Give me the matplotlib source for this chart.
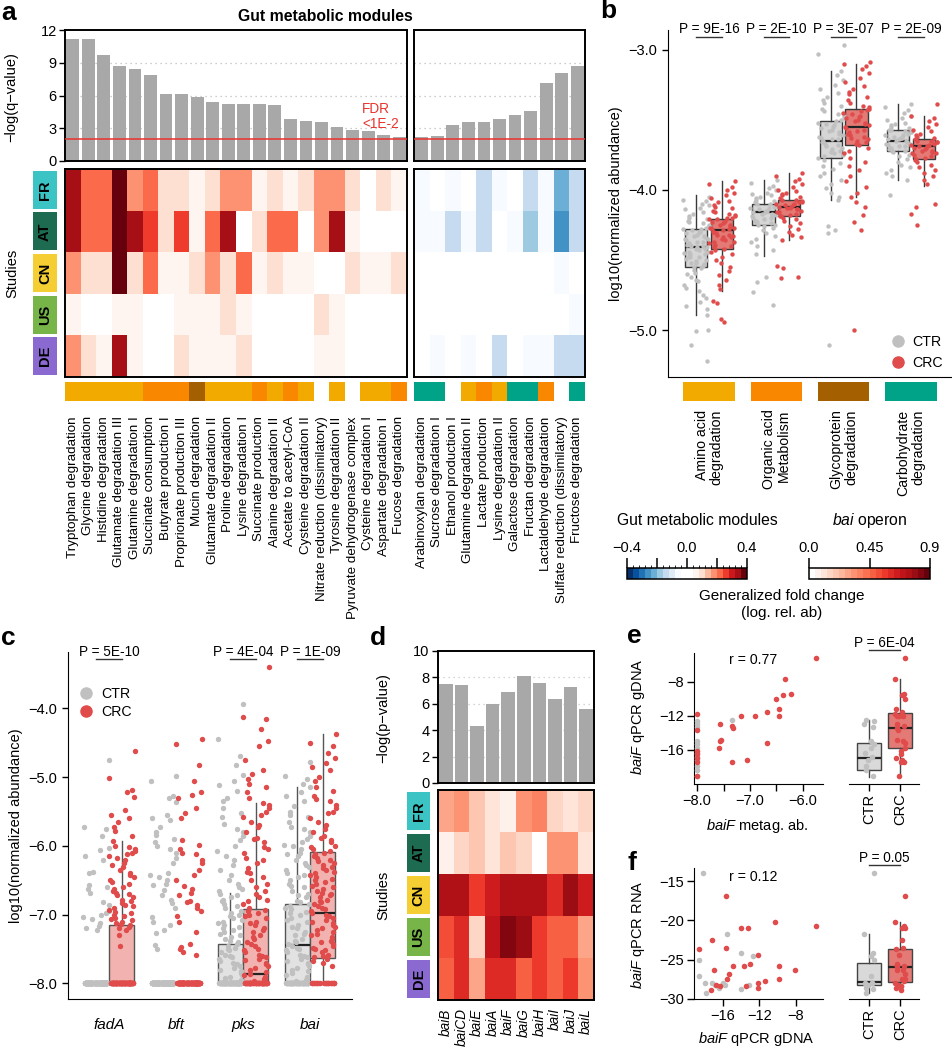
import numpy as np
import matplotlib
matplotlib.use("Agg")
import matplotlib.pyplot as plt
from matplotlib.colors import ListedColormap, BoundaryNorm, LinearSegmentedColormap, Normalize
from matplotlib.patches import Rectangle
from matplotlib.lines import Line2D
from matplotlib.cm import ScalarMappable

plt.rcParams["font.family"] = ["Liberation Sans", "DejaVu Sans"]
plt.rcParams["font.size"] = 9.6
plt.rcParams["mathtext.fontset"] = "custom"
plt.rcParams["mathtext.rm"] = "Liberation Sans"
plt.rcParams["mathtext.it"] = "Liberation Sans:italic"
plt.rcParams["xtick.major.width"] = 1.0
plt.rcParams["ytick.major.width"] = 1.0
plt.rcParams["xtick.major.size"] = 4
plt.rcParams["ytick.major.size"] = 4

# ============================ DATA ============================
studies = ["FR", "AT", "CN", "US", "DE"]
study_colors = ["#3CC3C3", "#1D6B50", "#F5CE33", "#77B548", "#8A6AD0"]

modules_up = ["Tryptophan degradation", "Glycine degradation", "Histidine degradation",
              "Glutamate degradation III", "Glutamine degradation I", "Succinate consumption",
              "Butyrate production I", "Proprionate production III", "Mucin degradation",
              "Glutamate degradation II", "Proline degradation", "Lysine degradation I",
              "Succinate production", "Alanine degradation II", "Acetate to acetyl-CoA",
              "Cysteine degradation II", "Nitrate reduction (dissimilatory)", "Tyrosine degradation II",
              "Pyruvate dehydrogenase complex", "Cysteine degradation I", "Aspartate degradation I",
              "Fucose degradation"]
modules_down = ["Arabinoxylan degradation", "Sucrose degradation I", "Ethanol production I",
                "Glutamine degradation II", "Lactate production", "Lysine degradation II",
                "Galactose degradation", "Fructan degradation", "Lactaldehyde degradation",
                "Sulfate reduction (dissimilatory)", "Fructose degradation"]
qval_up = [11.18, 11.15, 9.68, 8.67, 8.40, 7.88, 6.14, 6.10, 5.83, 5.40, 5.25,
           5.22, 5.20, 5.13, 3.88, 3.66, 3.54, 3.15, 2.80, 2.72, 2.38, 2.23]
qval_down = [2.17, 2.29, 3.27, 3.57, 3.60, 3.87, 4.18, 4.58, 7.14, 8.03, 8.67]
fdr_threshold = 2.0

cat_up = ["AA", "AA", "AA", "AA", "AA", "OA", "OA", "OA", "GP", "AA", "AA",
          "AA", "OA", "AA", "OA", "AA", "", "AA", "", "AA", "AA", "OA"]
cat_down = ["CH", "CH", "", "AA", "OA", "AA", "CH", "CH", "OA", "", "CH"]
category_keys = ["AA", "OA", "GP", "CH"]
category_names = ["Amino acid\ndegradation", "Organic acid\nMetabolism",
                  "Glycoprotein\ndegradation", "Carbohydrate\ndegradation"]
category_colors = ["#F2AA00", "#F98800", "#A45F00", "#00A388"]

# generalized fold change per study (rows FR, AT, CN, US, DE)
fc_up = [
    [0.34, 0.22, 0.22, 0.39, 0.18, 0.22, 0.10, 0.10, 0.06, 0.10, 0.18, 0.18, 0.06, 0.10, 0.06, 0.10, 0.18, 0.18, 0.10, 0.00, 0.10, 0.06],
    [0.34, 0.22, 0.22, 0.39, 0.34, 0.26, 0.10, 0.26, 0.06, 0.22, 0.34, 0.00, 0.10, 0.22, 0.22, 0.00, 0.18, 0.34, 0.06, 0.00, 0.00, 0.00],
    [0.18, 0.10, 0.10, 0.39, 0.10, 0.22, 0.06, 0.06, 0.10, 0.18, 0.10, 0.22, 0.06, 0.10, 0.06, 0.06, 0.00, 0.00, 0.10, 0.06, 0.06, 0.10],
    [0.06, 0.00, 0.00, 0.06, 0.06, 0.00, 0.00, 0.06, 0.06, 0.06, 0.10, 0.06, 0.00, 0.00, 0.00, 0.00, 0.10, 0.06, 0.00, 0.00, 0.00, 0.00],
    [0.18, 0.10, 0.06, 0.34, 0.06, 0.00, 0.00, 0.10, 0.06, 0.06, 0.06, 0.10, 0.00, 0.00, 0.00, 0.00, 0.06, 0.06, 0.00, 0.00, 0.00, 0.00],
]
fc_down = [
    [-0.06, 0.00, -0.06, 0.00, -0.14, -0.06, 0.00, -0.14, -0.06, -0.22, -0.14],
    [-0.06, -0.06, -0.14, -0.06, -0.14, 0.00, -0.06, -0.18, -0.06, -0.26, -0.14],
    [0.00, 0.00, 0.00, 0.00, 0.00, 0.00, 0.00, 0.00, 0.00, -0.06, 0.00],
    [0.00, 0.00, 0.00, 0.00, 0.00, 0.00, 0.00, 0.00, 0.00, 0.00, -0.06],
    [0.00, -0.06, 0.00, -0.06, 0.00, -0.14, 0.00, -0.06, -0.06, -0.14, -0.14],
]

# panel b: box stats [whislo, q1, med, q3, whishi] and points
b_ctr_box = [[-4.89, -4.55, -4.41, -4.28, -4.04], [-4.47, -4.25, -4.16, -4.10, -3.93],
             [-4.07, -3.77, -3.65, -3.51, -3.15], [-3.93, -3.72, -3.65, -3.57, -3.39]]
b_crc_box = [[-4.72, -4.42, -4.29, -4.21, -3.94], [-4.36, -4.19, -4.12, -4.07, -3.88],
             [-4.05, -3.68, -3.55, -3.42, -3.10], [-3.97, -3.78, -3.69, -3.64, -3.47]]
b_ctr_pts = [
    [-4.05, -4.07, -4.08, -4.1, -4.11, -4.13, -4.14, -4.16, -4.17, -4.19, -4.2, -4.21, -4.22, -4.23, -4.24, -4.25,
     -4.26, -4.27, -4.28, -4.28, -4.29, -4.3, -4.3, -4.31, -4.32, -4.33, -4.33, -4.34, -4.35, -4.35, -4.36, -4.37,
     -4.37, -4.38, -4.39, -4.39, -4.4, -4.4, -4.41, -4.41, -4.42, -4.42, -4.43, -4.44, -4.44, -4.45, -4.46, -4.46,
     -4.47, -4.48, -4.48, -4.49, -4.5, -4.51, -4.52, -4.52, -4.53, -4.54, -4.55, -4.56, -4.57, -4.59, -4.6, -4.62,
     -4.64, -4.65, -4.68, -4.7, -4.72, -4.75, -4.77, -4.8, -4.83, -4.85, -4.89, -5.0, -5.01, -5.11, -5.22],
    [-3.93, -3.95, -3.97, -3.99, -4.0, -4.02, -4.03, -4.04, -4.05, -4.06, -4.07, -4.08, -4.09, -4.1, -4.1, -4.11,
     -4.12, -4.12, -4.13, -4.13, -4.14, -4.15, -4.15, -4.16, -4.16, -4.17, -4.17, -4.18, -4.18, -4.19, -4.2, -4.2,
     -4.21, -4.22, -4.22, -4.23, -4.24, -4.25, -4.25, -4.26, -4.27, -4.29, -4.31, -4.33, -4.35, -4.37, -4.4, -4.43,
     -4.46, -4.62, -4.66, -4.73, -4.82],
    [-2.97, -3.03, -3.15, -3.18, -3.22, -3.25, -3.28, -3.31, -3.34, -3.36, -3.38, -3.4, -3.42, -3.44, -3.46, -3.47,
     -3.49, -3.5, -3.51, -3.52, -3.53, -3.54, -3.55, -3.56, -3.57, -3.58, -3.59, -3.6, -3.61, -3.62, -3.63, -3.64,
     -3.64, -3.65, -3.66, -3.67, -3.68, -3.69, -3.7, -3.71, -3.72, -3.73, -3.74, -3.75, -3.76, -3.77, -3.79, -3.81,
     -3.83, -3.85, -3.88, -3.9, -3.93, -3.96, -3.99, -4.02, -4.05, -4.07, -4.26, -4.29, -4.31, -5.11],
    [-3.39, -3.41, -3.43, -3.45, -3.47, -3.49, -3.5, -3.52, -3.53, -3.54, -3.55, -3.56, -3.57, -3.57, -3.58, -3.59,
     -3.59, -3.6, -3.61, -3.61, -3.62, -3.63, -3.63, -3.64, -3.64, -3.65, -3.65, -3.66, -3.67, -3.67, -3.68, -3.69,
     -3.69, -3.7, -3.71, -3.72, -3.72, -3.73, -3.75, -3.76, -3.78, -3.8, -3.82, -3.84, -3.86, -3.88, -3.9, -3.93,
     -4.04],
]
b_crc_pts = [
    [-3.94, -3.96, -3.98, -4.0, -4.02, -4.04, -4.06, -4.08, -4.09, -4.11, -4.12, -4.13, -4.15, -4.16, -4.17, -4.18,
     -4.19, -4.2, -4.2, -4.21, -4.21, -4.22, -4.23, -4.23, -4.24, -4.25, -4.25, -4.26, -4.27, -4.27, -4.28, -4.28,
     -4.29, -4.3, -4.3, -4.31, -4.32, -4.32, -4.33, -4.34, -4.34, -4.35, -4.36, -4.37, -4.37, -4.38, -4.39, -4.4,
     -4.41, -4.42, -4.43, -4.44, -4.46, -4.48, -4.5, -4.52, -4.55, -4.58, -4.61, -4.64, -4.68, -4.71, -4.79, -4.81,
     -4.92, -4.94],
    [-3.88, -3.9, -3.92, -3.94, -3.96, -3.98, -4.0, -4.01, -4.02, -4.03, -4.04, -4.05, -4.06, -4.07, -4.07, -4.08,
     -4.09, -4.09, -4.1, -4.1, -4.11, -4.11, -4.12, -4.12, -4.13, -4.13, -4.14, -4.14, -4.15, -4.16, -4.16, -4.17,
     -4.18, -4.19, -4.19, -4.2, -4.21, -4.22, -4.24, -4.26, -4.28, -4.3, -4.32, -4.34, -4.36, -4.54, -4.56, -4.62,
     -4.63],
    [-3.09, -3.1, -3.12, -3.14, -3.17, -3.2, -3.23, -3.26, -3.28, -3.3, -3.32, -3.34, -3.36, -3.38, -3.4, -3.41,
     -3.42, -3.43, -3.44, -3.45, -3.46, -3.47, -3.48, -3.49, -3.5, -3.51, -3.52, -3.53, -3.54, -3.55, -3.56, -3.57,
     -3.58, -3.59, -3.6, -3.61, -3.62, -3.63, -3.64, -3.65, -3.66, -3.67, -3.68, -3.7, -3.72, -3.74, -3.77, -3.8,
     -3.83, -3.86, -3.9, -3.94, -3.98, -4.02, -4.05, -4.09, -4.12, -4.18, -4.23, -4.29, -5.0],
    [-3.39, -3.47, -3.49, -3.51, -3.53, -3.55, -3.57, -3.58, -3.6, -3.61, -3.62, -3.63, -3.64, -3.65, -3.65, -3.66,
     -3.66, -3.67, -3.68, -3.68, -3.69, -3.69, -3.7, -3.7, -3.71, -3.72, -3.72, -3.73, -3.74, -3.74, -3.75, -3.76,
     -3.77, -3.78, -3.79, -3.8, -3.82, -3.84, -3.86, -3.88, -3.9, -3.93, -3.96, -4.1, -4.12, -4.17, -4.25],
]
b_pvals = ["P = 9E-16", "P = 2E-10", "P = 3E-07", "P = 2E-09"]

# panel c
c_genes = ["fadA", "bft", "pks", "bai"]
c_ctr_box = [[-8, -8, -8, -8, -8], [-8, -8, -8, -8, -8], [-8, -8, -8, -7.43, -6.69], [-8, -8, -7.44, -6.85, -5.14]]
c_crc_box = [[-8, -8, -8, -7.15, -5.93], [-8, -8, -8, -8, -8], [-8, -8, -7.86, -6.92, -5.37], [-8, -7.63, -6.98, -6.09, -4.37]]
c_ctr_floor = [180, 200, 110, 70]
c_crc_floor = [110, 170, 60, 25]
c_ctr_pts = [
    [-4.75, -5.73, -5.75, -5.86, -6.03, -6.06, -6.15, -6.2, -6.38, -6.4, -6.57, -6.6, -6.63, -6.69, -6.82, -6.86,
     -6.95, -6.98, -7.0, -7.03, -7.07, -7.12, -7.16, -7.2, -7.22],
    [-4.98, -5.05, -5.28, -5.31, -5.36, -5.55, -5.6, -5.62, -5.72, -5.8, -5.84, -5.9, -5.95, -6.0, -6.05, -6.1,
     -6.18, -6.25, -6.4, -6.42, -6.45, -6.5, -6.55, -6.57, -6.64, -6.71, -6.78, -6.83, -6.9, -7.03, -7.1, -7.15,
     -7.22, -7.27, -7.44, -7.5],
    [-3.93, -4.45, -4.69, -4.83, -4.97, -5.05, -5.12, -5.2, -5.3, -5.35, -5.45, -5.52, -5.58, -5.68, -5.75, -5.8,
     -5.85, -5.92, -6.0, -6.08, -6.15, -6.2, -6.28, -6.35, -6.42, -6.5, -6.55, -6.6, -6.62, -6.66, -6.7, -6.72,
     -6.75, -6.78, -6.8, -6.84, -6.88, -6.9, -6.95, -6.98, -7.0, -7.02, -7.05, -7.08, -7.1, -7.12, -7.15, -7.18,
     -7.2, -7.22, -7.25, -7.28, -7.3, -7.32, -7.35, -7.38, -7.4, -7.42, -7.45, -7.48, -7.5, -7.52, -7.55, -7.58,
     -7.6, -7.62, -7.65, -7.68, -7.7, -7.72, -7.75, -7.78, -7.8, -7.82, -7.85, -7.88, -7.9, -7.92, -7.95, -7.97],
    [-4.78, -4.98, -5.03, -5.1, -5.15, -5.22, -5.28, -5.35, -5.42, -5.5, -5.55, -5.58, -5.65, -5.72, -5.75, -5.8,
     -5.85, -5.9, -5.95, -5.98, -6.0, -6.05, -6.1, -6.12, -6.15, -6.2, -6.25, -6.28, -6.3, -6.35, -6.4, -6.42,
     -6.45, -6.5, -6.55, -6.58, -6.6, -6.65, -6.7, -6.72, -6.75, -6.8, -6.82, -6.84, -6.88, -6.9, -6.92, -6.96,
     -6.98, -7.0, -7.05, -7.08, -7.1, -7.15, -7.18, -7.2, -7.25, -7.28, -7.3, -7.35, -7.38, -7.4, -7.42, -7.45,
     -7.48, -7.5, -7.52, -7.55, -7.58, -7.6, -7.62, -7.65, -7.68, -7.7, -7.72, -7.75, -7.78, -7.8, -7.82, -7.85,
     -7.88, -7.9, -7.92, -7.95, -7.97],
]
c_crc_pts = [
    [-4.62, -5.01, -5.19, -5.22, -5.29, -5.48, -5.55, -5.6, -5.65, -5.72, -5.78, -5.85, -5.93, -6.0, -6.02, -6.05,
     -6.08, -6.1, -6.12, -6.15, -6.18, -6.2, -6.25, -6.28, -6.3, -6.35, -6.4, -6.42, -6.45, -6.5, -6.52, -6.55,
     -6.6, -6.62, -6.65, -6.68, -6.7, -6.72, -6.75, -6.78, -6.8, -6.83, -6.86, -6.88, -6.9, -6.93, -6.96, -6.98,
     -7.0, -7.02, -7.05, -7.06, -7.08, -7.1, -7.12, -7.14, -7.15, -7.18, -7.2, -7.22, -7.3, -7.45],
    [-4.45, -4.52, -4.83, -5.05, -5.22, -5.26, -5.3, -5.45, -5.52, -5.6, -5.92, -5.98, -6.05, -6.1, -6.12, -6.2,
     -6.25, -6.35, -6.42, -6.5, -6.58, -6.62, -6.68, -6.72, -6.8, -6.82, -6.86, -6.9, -6.95, -7.02, -7.1, -7.25,
     -7.42, -7.47, -7.5, -7.55, -7.58],
    [-3.4, -4.12, -4.15, -4.3, -4.48, -4.55, -4.75, -4.9, -4.95, -5.02, -5.1, -5.15, -5.22, -5.3, -5.38, -5.4,
     -5.45, -5.5, -5.55, -5.58, -5.65, -5.7, -5.72, -5.8, -5.88, -5.9, -5.95, -6.02, -6.05, -6.1, -6.18, -6.2,
     -6.25, -6.32, -6.38, -6.4, -6.45, -6.5, -6.55, -6.6, -6.65, -6.7, -6.75, -6.78, -6.8, -6.85, -6.9, -6.93,
     -6.95, -6.97, -7.0, -7.02, -7.05, -7.1, -7.12, -7.15, -7.2, -7.22, -7.25, -7.3, -7.32, -7.35, -7.4, -7.42,
     -7.45, -7.5, -7.52, -7.55, -7.58, -7.6, -7.62, -7.64, -7.66, -7.7, -7.72, -7.75, -7.78, -7.8, -7.84, -7.86,
     -7.88, -7.9, -7.92, -7.94, -7.96, -7.98],
    [-4.37, -4.5, -4.55, -4.65, -4.72, -4.8, -4.85, -4.9, -5.0, -5.05, -5.15, -5.2, -5.28, -5.32, -5.35, -5.4,
     -5.45, -5.5, -5.52, -5.6, -5.65, -5.7, -5.75, -5.8, -5.85, -5.88, -5.92, -5.95, -6.0, -6.02, -6.05, -6.08,
     -6.1, -6.12, -6.15, -6.18, -6.2, -6.22, -6.25, -6.28, -6.3, -6.32, -6.35, -6.38, -6.4, -6.42, -6.45, -6.48,
     -6.5, -6.52, -6.55, -6.58, -6.6, -6.62, -6.65, -6.68, -6.7, -6.72, -6.75, -6.78, -6.8, -6.82, -6.85, -6.88,
     -6.9, -6.92, -6.95, -6.98, -7.0, -7.02, -7.05, -7.08, -7.1, -7.12, -7.15, -7.18, -7.2, -7.22, -7.25, -7.28,
     -7.3, -7.32, -7.35, -7.38, -7.4, -7.42, -7.45, -7.48, -7.5, -7.52, -7.55, -7.58, -7.6, -7.62, -7.65, -7.68,
     -7.7, -7.75],
]
c_pvals = {0: "P = 5E-10", 2: "P = 4E-04", 3: "P = 1E-09"}

# panel d
bai_genes = ["baiB", "baiCD", "baiE", "baiA", "baiF", "baiG", "baiH", "baiI", "baiJ", "baiL"]
bai_pval = [7.48, 7.43, 4.32, 6.0, 6.87, 8.08, 7.55, 6.37, 7.27, 5.61]
bai_fc = [
    [0.29, 0.34, 0.19, 0.13, 0.05, 0.35, 0.40, 0.14, 0.11, 0.14],
    [0.06, 0.18, 0.19, 0.12, 0.19, 0.16, 0.03, 0.32, 0.34, 0.12],
    [0.74, 0.73, 0.54, 0.63, 0.74, 0.75, 0.74, 0.59, 0.79, 0.64],
    [0.51, 0.59, 0.18, 0.69, 0.85, 0.80, 0.54, 0.45, 0.49, 0.28],
    [0.49, 0.61, 0.29, 0.61, 0.61, 0.45, 0.55, 0.49, 0.56, 0.36],
]

# panel e
e_ctr_x = [-8.0, -8.0, -8.0, -8.0, -8.0, -8.0, -8.0, -8.0, -8.0, -8.0, -8.0, -8.0, -7.35]
e_ctr_y = [-12.6, -12.9, -13.3, -14.9, -15.3, -15.8, -16.3, -16.8, -17.2, -17.9, -18.3, -19.1, -12.47]
e_crc_x = [-5.76, -6.33, -6.22, -6.38, -6.50, -6.68, -6.46, -6.46, -6.90, -7.17, -7.57, -7.35, -7.33,
           -7.54, -7.57, -7.58, -6.68, -7.35, -7.05, -8.0, -8.0, -8.0, -8.0, -8.0, -8.0, -8.0]
e_crc_y = [-5.14, -7.65, -9.41, -9.53, -10.04, -11.5, -11.18, -12.0, -12.0, -12.0, -12.9, -13.14, -13.4,
           -14.8, -15.0, -15.8, -15.2, -17.45, -17.2, -11.76, -13.6, -16.1, -16.5, -17.0, -17.4, -19.06]
e_ctr_box = [-19.14, -18.35, -16.94, -15.14, -12.47]
e_crc_box = [-19.06, -15.8, -13.37, -11.6, -7.65]
e_r = "r = 0.77"
e_p = "P = 6E-04"

# panel f
f_ctr_x = [-18.2, -15.6, -14.0, -12.7, -18.7, -18.6, -18.0, -17.2, -16.9, -16.5, -15.8, -14.0, -13.1, -17.9, -16.0]
f_ctr_y = [-14.0, -21.8, -24.15, -24.6, -25.1, -27.1, -27.95, -28.0, -28.3, -28.6, -28.2, -28.8, -28.2, -29.25, -28.0]
f_crc_x = [-15.7, -10.3, -5.8, -14.05, -13.3, -17.2, -18.7, -15.7, -12.2, -13.0, -14.9, -13.7, -9.85, -8.1,
           -17.0, -15.3, -15.6, -11.4, -9.85, -12.2, -16.8, -16.3, -13.5, -12.2, -17.35]
f_crc_y = [-16.9, -20.2, -20.75, -20.95, -20.95, -22.45, -23.7, -23.5, -24.4, -25.55, -25.85, -25.85, -25.8, -26.35,
           -26.3, -26.9, -27.5, -27.8, -27.5, -28.0, -28.2, -28.4, -28.4, -28.7, -28.9]
f_ctr_box = [-29.25, -28.3, -27.85, -25.4, -21.8]
f_crc_box = [-28.8, -27.9, -25.95, -23.6, -20.2]
f_r = "r = 0.12"
f_p = "P = 0.05"

# ============================ STYLE ============================
CTR_C = "#C0C0C0"
CRC_C = "#E04B4B"
RED_LINE = "#E8332E"
W, H = 952, 1050
fig = plt.figure(figsize=(W / 100, H / 100), dpi=100)


def pax(x0, y0, x1, y1):
    return fig.add_axes([x0 / W, 1 - y1 / H, (x1 - x0) / W, (y1 - y0) / H])


def ftext(x, y, s, **kw):
    return fig.text(x / W, 1 - y / H, s, **kw)


def spread(n, w):
    # deterministic, irregular horizontal jitter offsets (layout only)
    k = np.arange(1, n + 1)
    u = (np.sin(k * 12.9898 + 4.1414) * 43758.5453) % 1.0
    return (u - 0.5) * w


def draw_box(ax, pos, st, width, face, edge="#3A3A3A", z=2):
    d = dict(whislo=st[0], q1=st[1], med=st[2], q3=st[3], whishi=st[4], fliers=[])
    ax.bxp([d], positions=[pos], widths=width, patch_artist=True, showfliers=False,
           showcaps=False, manage_ticks=False,
           boxprops=dict(facecolor=face, edgecolor=edge, lw=1.0),
           medianprops=dict(color="#222222", lw=1.6),
           whiskerprops=dict(color=edge, lw=1.0), zorder=z)


def study_labels(x0, y0, x1, y1):
    ax = pax(x0, y0, x1, y1)
    ax.set_xlim(0, 1)
    ax.set_ylim(5, 0)
    ax.axis("off")
    for i, (s, c) in enumerate(zip(studies, study_colors)):
        ax.add_patch(Rectangle((0, i + 0.045), 1, 0.91, color=c, lw=0))
        ax.text(0.5, i + 0.5, s, rotation=90, ha="center", va="center",
                fontweight="bold", fontsize=10.5, color="black")


def pval_annot(ax, x1, x2, text, y_text, y_line):
    tr = ax.get_xaxis_transform()
    ax.plot([x1, x2], [y_line, y_line], color="#333333", lw=1, transform=tr, clip_on=False)
    ax.text((x1 + x2) / 2, y_text, text, transform=tr, ha="center", va="baseline",
            fontsize=9.8, clip_on=False)


# colormaps
blues9 = ["#F7FBFF", "#DEEBF7", "#C6DBEF", "#9ECAE1", "#6BAED6", "#4292C6", "#2171B5", "#08519C", "#08306B"]
reds9 = ["#FFF5F0", "#FEE0D2", "#FCBBA1", "#FC9272", "#FB6A4A", "#EF3B2C", "#CB181D", "#A50F15", "#67000D"]
cmap_a = ListedColormap(blues9[::-1] + ["#FFFFFF", "#FFFFFF"] + reds9)
norm_a = BoundaryNorm(np.linspace(-0.4, 0.4, 21), 20)
cmap_d = LinearSegmentedColormap.from_list("bai", ["#FFFFFF"] + reds9[1:], N=20)
norm_d = Normalize(0, 0.9)

# ============================ PANEL A ============================
ax_a1 = pax(65, 30, 407, 161)
ax_a2 = pax(414, 30, 585, 161)
for ax, vals in [(ax_a1, qval_up), (ax_a2, qval_down)]:
    ax.bar(np.arange(len(vals)), vals, width=0.82, color="#A8A8A8", zorder=2)
    ax.set_xlim(-0.5, len(vals) - 0.5)
    ax.set_ylim(0, 12)
    for g in [3, 6, 9]:
        ax.axhline(g, color="#BDBDBD", lw=0.9, ls=(0, (1, 3)), zorder=1)
    ax.axhline(fdr_threshold, color=RED_LINE, lw=1.1, zorder=3)
    ax.set_xticks([])
    for s in ax.spines.values():
        s.set_linewidth(1.4)
ax_a1.set_yticks([0, 3, 6, 9, 12])
ax_a1.tick_params(axis="y", labelsize=10.5, pad=2)
ax_a2.set_yticks([])
ftext(11, 97, "\u2212log(q\u2212value)", rotation=90, ha="center", va="center", fontsize=10.5)
ftext(325, 21, "Gut metabolic modules", ha="center", va="baseline", fontsize=11.3, fontweight="bold")
ftext(362, 113, "FDR", ha="left", va="baseline", color=RED_LINE, fontsize=9.8)
ftext(362, 128, "<1E-2", ha="left", va="baseline", color=RED_LINE, fontsize=9.8)

ax_h1 = pax(65, 169, 407, 377)
ax_h2 = pax(414, 169, 585, 377)
for ax, m in [(ax_h1, fc_up), (ax_h2, fc_down)]:
    ax.imshow(np.array(m), cmap=cmap_a, norm=norm_a, aspect="auto", interpolation="nearest")
    ax.set_xticks([])
    ax.set_yticks([])
    for s in ax.spines.values():
        s.set_linewidth(1.4)
study_labels(33, 169, 57, 377)
ftext(12, 273, "Studies", rotation=90, ha="center", va="center", fontsize=10.5)

cat_color = dict(zip(category_keys, category_colors))
for (x0, x1), mods, cats in [((65, 407), modules_up, cat_up), ((414, 585), modules_down, cat_down)]:
    ax = pax(x0, 382, x1, 401)
    n = len(mods)
    ax.bar(np.arange(n), 1, width=1.0, color=[cat_color.get(c, "#FFFFFF") for c in cats], lw=0)
    ax.set_xlim(-0.5, n - 0.5)
    ax.set_ylim(0, 1)
    for s in ax.spines.values():
        s.set_visible(False)
    ax.set_yticks([])
    ax.set_xticks(np.arange(n))
    ax.set_xticklabels(mods, rotation=90, fontsize=9.6)
    ax.tick_params(axis="x", length=0, pad=11)

# ============================ PANEL B ============================
axb = pax(668, 30, 952, 377)
axb.set_xlim(0.391, 4.61)
axb.set_ylim(-5.335, -2.86)
for s in ["top", "right"]:
    axb.spines[s].set_visible(False)
axb.set_xticks([])
axb.set_yticks([-3, -4, -5])
axb.set_yticklabels(["\u22123.0", "\u22124.0", "\u22125.0"], fontsize=10.5)
axb.set_ylabel("log10(normalized abundance)", fontsize=10.5, labelpad=4)
off_b = 0.19
for i in range(4):
    p = i + 1
    for side, st, pts, face, pc in [(-1, b_ctr_box[i], b_ctr_pts[i], "#D6D6D6", CTR_C),
                                    (1, b_crc_box[i], b_crc_pts[i], "#E47A75", CRC_C)]:
        x = p + side * off_b
        draw_box(axb, x, st, 0.33, face)
        axb.scatter(x + spread(len(pts), 0.40), pts, s=10, color=pc, lw=0, zorder=3)
    pval_annot(axb, p - off_b, p + off_b, b_pvals[i], 0.992, 0.979)
handles = [Line2D([], [], marker="o", ls="", color=CTR_C, markersize=8),
           Line2D([], [], marker="o", ls="", color=CRC_C, markersize=8)]
axb.legend(handles, ["CTR", "CRC"], loc="upper left", bbox_to_anchor=(884 / W, 1 - 328 / H),
           bbox_transform=fig.transFigure, frameon=False, handletextpad=0.5, labelspacing=0.5,
           borderpad=0, handlelength=1.0, fontsize=10.2)

ax_bs = pax(668, 382, 952, 401)
ax_bs.set_xlim(0.391, 4.61)
ax_bs.set_ylim(0, 1)
ax_bs.axis("off")
ax_bs.bar(np.arange(1, 5), 1, width=0.76, color=category_colors, lw=0)
for i, nm in enumerate(category_names):
    ax_bs.text(i + 1, -0.45, nm, rotation=90, ha="center", va="top", multialignment="right",
               fontsize=10.2, linespacing=1.05)

# colorbars
ftext(697, 525, "Gut metabolic modules", ha="center", va="baseline", fontsize=11.3)
ftext(870, 525, "$\\it{bai}$ operon", ha="center", va="baseline", fontsize=11.3)
cax1 = pax(627, 568, 747, 579)
cb1 = fig.colorbar(ScalarMappable(norm=norm_a, cmap=cmap_a), cax=cax1, orientation="horizontal",
                   ticklocation="top")
cb1.set_ticks([-0.4, -0.2, 0, 0.2, 0.4])
cb1.set_ticklabels(["\u22120.4", "", "0.0", "", "0.4"])
cax2 = pax(809, 568, 930, 579)
cb2 = fig.colorbar(ScalarMappable(norm=norm_d, cmap=cmap_d), cax=cax2, orientation="horizontal",
                   ticklocation="top")
cb2.set_ticks([0, 0.45, 0.9])
cb2.set_ticklabels(["0.0", "0.45", "0.9"])
for cb in [cb1, cb2]:
    cb.ax.tick_params(length=7, width=1.1, pad=2, labelsize=10.5)
    cb.outline.set_linewidth(1.1)
ftext(782, 600, "Generalized fold change", ha="center", va="baseline", fontsize=11)
ftext(782, 617, "(log. rel. ab)", ha="center", va="baseline", fontsize=11)

# ============================ PANEL C ============================
axc = pax(68, 652, 352, 999)
axc.set_xlim(0.388, 4.627)
axc.set_ylim(-8.227, -3.18)
for s in ["top", "right"]:
    axc.spines[s].set_visible(False)
axc.set_yticks([-4, -5, -6, -7, -8])
axc.set_yticklabels(["\u22124.0", "\u22125.0", "\u22126.0", "\u22127.0", "\u22128.0"], fontsize=10.5)
axc.set_ylabel("log10(normalized abundance)", fontsize=10.5, labelpad=4)
axc.set_xticks(np.arange(1, 5))
axc.set_xticklabels(c_genes, fontstyle="italic", fontsize=11)
axc.tick_params(axis="x", length=0, pad=14)
off_c = 0.19
for i in range(4):
    p = i + 1
    for side, st, pts, nfl, face, pc in [(-1, c_ctr_box[i], c_ctr_pts[i], c_ctr_floor[i], "#E2E2E2", CTR_C),
                                         (1, c_crc_box[i], c_crc_pts[i], c_crc_floor[i], "#F2B2AF", CRC_C)]:
        x = p + side * off_c
        draw_box(axc, x, st, 0.37, face, edge="#555555")
        axc.scatter(x + spread(len(pts), 0.40), pts, s=15, color=pc, lw=0, zorder=3)
        axc.scatter(x + spread(nfl, 0.34), [-8.0] * nfl, s=15, color=pc, lw=0, zorder=3)
    if i in c_pvals:
        pval_annot(axc, p - off_c, p + off_c, c_pvals[i], 0.989, 0.979)
axc.legend(handles, ["CTR", "CRC"], loc="upper left", bbox_to_anchor=(72 / W, 1 - 680 / H),
           bbox_transform=fig.transFigure, frameon=False, handletextpad=0.6, labelspacing=0.3,
           borderpad=0, handlelength=1.0, fontsize=10.2)

# ============================ PANEL D ============================
ax_d1 = pax(438, 651, 594, 783)
nb = len(bai_genes)
ax_d1.bar(np.arange(nb), bai_pval, width=0.86, color="#A8A8A8", zorder=2)
ax_d1.set_xlim(-0.5, nb - 0.5)
ax_d1.set_ylim(0, 10)
for g in [2, 4, 6, 8]:
    ax_d1.axhline(g, color="#C8C8C8", lw=0.9, ls=(0, (1, 3)), zorder=1)
ax_d1.set_xticks([])
ax_d1.set_yticks([0, 2, 4, 6, 8, 10])
ax_d1.tick_params(axis="y", labelsize=10.5, pad=2)
for s in ax_d1.spines.values():
    s.set_linewidth(1.4)
ftext(383, 718, "\u2212log(p\u2212value)", rotation=90, ha="center", va="center", fontsize=10.5)

ax_d2 = pax(438, 790, 594, 1000)
ax_d2.imshow(np.array(bai_fc), cmap=cmap_d, norm=norm_d, aspect="auto", interpolation="nearest")
ax_d2.set_yticks([])
ax_d2.set_xticks(np.arange(nb))
ax_d2.set_xticklabels(bai_genes, rotation=90, fontstyle="italic", fontsize=9.8)
ax_d2.tick_params(axis="x", length=0, pad=6)
for s in ax_d2.spines.values():
    s.set_linewidth(1.4)
study_labels(407, 790, 430, 1000)
ftext(383, 895, "Studies", rotation=90, ha="center", va="center", fontsize=10.5)


# ============================ PANELS E / F ============================
def scatter_panel(box, xlim, ylim, xticks, xticklabels, yticks, ctr_x, ctr_y, crc_x, crc_y):
    ax = pax(*box)
    ax.scatter(ctr_x, ctr_y, s=16, color=CTR_C, lw=0, zorder=3, clip_on=False)
    ax.scatter(crc_x, crc_y, s=16, color=CRC_C, lw=0, zorder=3, clip_on=False)
    ax.set_xlim(*xlim)
    ax.set_ylim(*ylim)
    for s in ["top", "right"]:
        ax.spines[s].set_visible(False)
    ax.set_xticks(xticks)
    ax.set_xticklabels(xticklabels, fontsize=10.5)
    ax.set_yticks(yticks)
    ax.set_yticklabels(["\u2212%d" % abs(v) for v in yticks], fontsize=10.5)
    ax.tick_params(length=5, pad=2)
    return ax


def box_panel(box, ylim, ctr_box, crc_box, ctr_y, crc_y, ptext):
    ax = pax(*box)
    ax.set_xlim(0.355, 2.61)
    ax.set_ylim(*ylim)
    for s in ["top", "right", "left"]:
        ax.spines[s].set_visible(False)
    draw_box(ax, 1, ctr_box, 0.77, "#D9D9D9", edge="#444444")
    draw_box(ax, 2, crc_box, 0.77, "#E47A75", edge="#444444")
    ax.scatter(1 + spread(len(ctr_y), 0.35), ctr_y, s=16, color=CTR_C, lw=0, zorder=3, clip_on=False)
    ax.scatter(2 + spread(len(crc_y), 0.35), crc_y, s=16, color=CRC_C, lw=0, zorder=3, clip_on=False)
    ax.set_yticks([])
    ax.set_xticks([1, 2])
    ax.set_xticklabels(["CTR", "CRC"], rotation=90, fontsize=10.5)
    ax.tick_params(axis="x", length=5, pad=2)
    pval_annot(ax, 1, 2, ptext, 1.045, 1.023)
    return ax


e_ylim = (-20.0, -4.6)
ax_e = scatter_panel((694, 653, 823, 784), (-8.06, -5.62), e_ylim, [-8, -7.5, -7, -6.5, -6],
                     ["\u22128.0", "", "\u22127.0", "", "\u22126.0"], [-8, -12, -16],
                     e_ctr_x, e_ctr_y, e_crc_x, e_crc_y)
box_panel((849, 653, 919, 784), e_ylim, e_ctr_box, e_crc_box, e_ctr_y, e_crc_y, e_p)
ftext(753, 664, e_r, ha="center", va="baseline", fontsize=10.2)
ftext(757, 830, "$\\it{baiF}$ metag. ab.", ha="center", va="baseline", fontsize=10.5)
ftext(638, 717, "$\\it{baiF}$ qPCR gDNA", rotation=90, ha="center", va="center", fontsize=10.5)

f_ylim = (-30.05, -13.3)
ax_f = scatter_panel((694, 868, 823, 999), (-19.2, -5.0), f_ylim, [-16, -12, -8],
                     ["\u221216", "\u221212", "\u22128"], [-15, -20, -25, -30],
                     f_ctr_x, f_ctr_y, f_crc_x, f_crc_y)
box_panel((849, 868, 919, 999), f_ylim, f_ctr_box, f_crc_box, f_ctr_y, f_crc_y, f_p)
ftext(753, 881, f_r, ha="center", va="baseline", fontsize=10.2)
ftext(756, 1043, "$\\it{baiF}$ qPCR gDNA", ha="center", va="baseline", fontsize=10.5)
ftext(638, 935, "$\\it{baiF}$ qPCR RNA", rotation=90, ha="center", va="center", fontsize=10.5)

# panel letters
for x, y, l in [(1, 20, "a"), (600, 18, "b"), (1, 645, "c"), (370, 645, "d"), (627, 643, "e"), (627, 870, "f")]:
    ftext(x, y, l, ha="left", va="baseline", fontsize=19, fontweight="bold")

fig.savefig("out.png", dpi=100)
